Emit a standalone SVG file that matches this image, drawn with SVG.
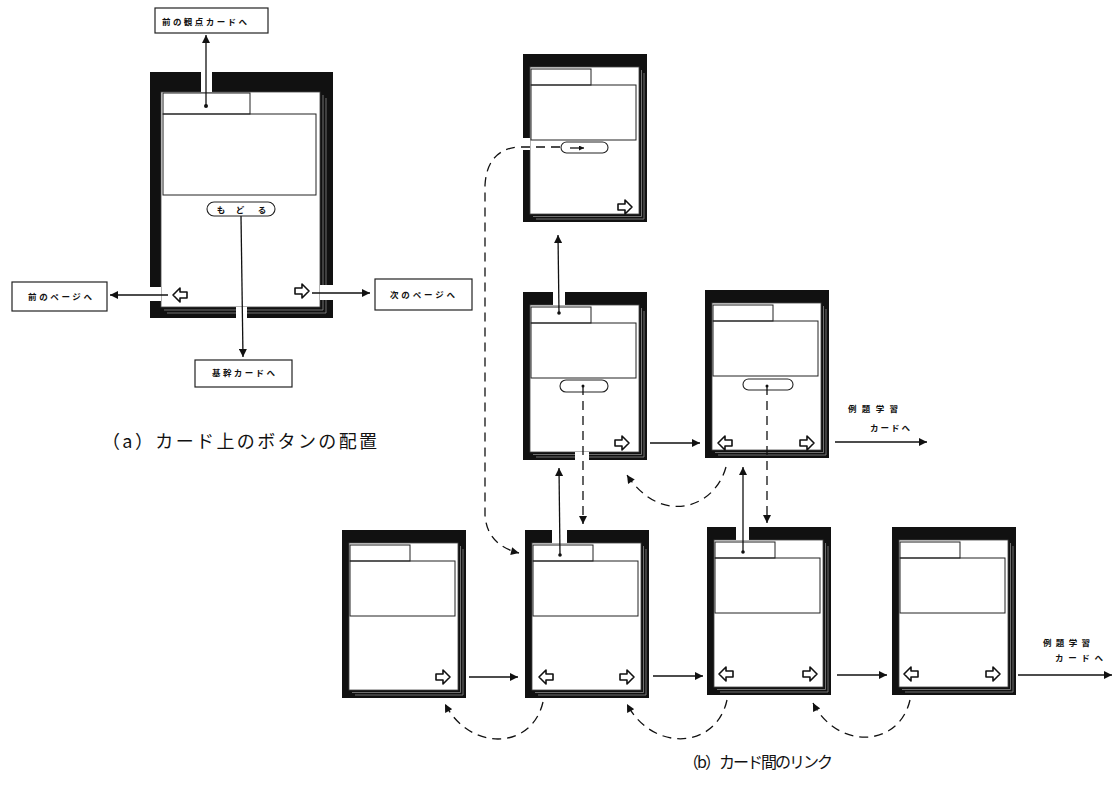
<svg xmlns="http://www.w3.org/2000/svg" xmlns:xlink="http://www.w3.org/1999/xlink" width="1119" height="799" viewBox="0 0 1119 799">
<style>
.frame{fill:#111}
.inner{fill:#fff;stroke:#444;stroke-width:0.8}
.thin{fill:none;stroke:#9a9a9a;stroke-width:0.7}
.ln{fill:none;stroke:#222;stroke-width:1}
.gap{fill:#fff}
.btn{fill:#fff;stroke:#222;stroke-width:1.1}
.conn{fill:none;stroke:#111;stroke-width:1.3}
.dash{stroke-dasharray:9 6}
.box{fill:#fff;stroke:#222;stroke-width:1.2}
.lbl{font-family:"Noto Sans CJK JP","Noto Sans",sans-serif;font-size:8.5px;font-weight:bold;fill:#111}
.cap{font-family:"Noto Sans CJK JP","Noto Sans",sans-serif;fill:#111}
.icon{fill:#fff;stroke:#111;stroke-width:1.6;stroke-linejoin:round}
.dot{fill:#111}
</style>
<defs>
<marker id="ah" viewBox="0 0 10 10" refX="10" refY="5" markerWidth="10" markerHeight="8" markerUnits="userSpaceOnUse" orient="auto"><path d="M0,0 L10,5 L0,10 Z" fill="#111"/></marker>
<marker id="ahs" viewBox="0 0 10 10" refX="10" refY="5" markerWidth="6" markerHeight="5" markerUnits="userSpaceOnUse" orient="auto"><path d="M0,0 L10,5 L0,10 Z" fill="#111"/></marker>
<path id="ra" d="M-7,-3 L0,-3 L0,-7 L7,0 L0,7 L0,3 L-7,3 Z"/>
<path id="la" d="M7,-3 L0,-3 L0,-7 L-7,0 L0,7 L0,3 L7,3 Z"/>
<g id="cardbase">
<rect class="frame" x="0" y="0" width="124" height="168"/>
<rect class="inner" x="7" y="13" width="109" height="147"/>
<polyline class="thin" points="118.5,16 118.5,162.5 10,162.5"/>
<polyline class="thin" points="121,19 121,165 13,165"/>
<rect class="ln" x="8" y="15" width="60" height="16"/>
<rect class="ln" x="8" y="31" width="105" height="55"/>
</g>
</defs>
<rect width="1119" height="799" fill="#fff"/>

<!-- (a) card -->
<g id="cardA">
<rect class="frame" x="150" y="72" width="183" height="246"/>
<rect class="inner" x="161" y="92" width="159" height="215"/>
<polyline class="thin" points="323,95 323,310 164,310"/>
<polyline class="thin" points="326,98 326,313 167,313"/>
<rect class="gap" x="201" y="72" width="11" height="20"/>
<rect class="gap" x="150" y="287" width="11" height="14"/>
<rect class="gap" x="320" y="285" width="13" height="15"/>
<rect class="gap" x="236" y="307" width="11" height="11"/>
<rect class="ln" x="163" y="93" width="87" height="21"/>
<rect class="ln" x="163" y="114" width="153" height="81"/>
<rect class="btn" x="207" y="202" width="68" height="14" rx="7"/>
<text class="lbl" x="221" y="212.5" text-anchor="middle">も</text>
<text class="lbl" x="240" y="212.5" text-anchor="middle">ど</text>
<text class="lbl" x="262" y="212.5" text-anchor="middle">る</text>
<use xlink:href="#la" class="icon" x="180" y="295"/>
<use xlink:href="#ra" class="icon" x="302" y="291"/>
</g>

<g id="lblPrevView"><rect class="box" x="155" y="8" width="113" height="25"/><text class="lbl" x="162" y="25" textLength="85" lengthAdjust="spacing">前の観点カードへ</text></g>
<g id="lblPrevPage"><rect class="box" x="12" y="282" width="95" height="29"/><text class="lbl" x="28" y="300" textLength="64" lengthAdjust="spacing">前のページへ</text></g>
<g id="lblNextPage"><rect class="box" x="375" y="279" width="97" height="31"/><text class="lbl" x="390" y="298" textLength="65" lengthAdjust="spacing">次のページへ</text></g>
<g id="lblBase"><rect class="box" x="195" y="360" width="97" height="27"/><text class="lbl" x="212" y="376" textLength="63" lengthAdjust="spacing">基幹カードへ</text></g>

<text class="cap" x="102" y="448" font-size="18" textLength="275" lengthAdjust="spacing">（a）カード上のボタンの配置</text>

<!-- (b) cards -->
<g id="cardT" transform="translate(523,54)">
<use xlink:href="#cardbase"/>
<rect class="gap" x="0" y="84" width="7" height="12"/>
<rect class="btn" x="38" y="88" width="47" height="11" rx="5.5"/>
<use xlink:href="#ra" class="icon" x="102" y="153"/>
</g>
<g id="cardM1" transform="translate(523,292)">
<use xlink:href="#cardbase"/>
<rect class="gap" x="30" y="0" width="12" height="13"/>
<rect class="gap" x="52" y="160" width="14" height="8"/>
<rect class="btn" x="37" y="88" width="48" height="12" rx="6"/>
<use xlink:href="#ra" class="icon" x="99" y="151"/>
</g>
<g id="cardM2" transform="translate(705,290)">
<use xlink:href="#cardbase"/>
<rect class="btn" x="38" y="89" width="50" height="11" rx="5.5"/>
<use xlink:href="#la" class="icon" x="20" y="153"/>
<use xlink:href="#ra" class="icon" x="102" y="153"/>
</g>
<g id="cardB1" transform="translate(342,530)">
<use xlink:href="#cardbase"/>
<use xlink:href="#ra" class="icon" x="101" y="147"/>
</g>
<g id="cardB2" transform="translate(525,530)">
<use xlink:href="#cardbase"/>
<rect class="gap" x="27" y="0" width="15" height="13"/>
<use xlink:href="#la" class="icon" x="21" y="147"/>
<use xlink:href="#ra" class="icon" x="102" y="147"/>
</g>
<g id="cardB3" transform="translate(707,527)">
<use xlink:href="#cardbase"/>
<rect class="gap" x="29" y="0" width="13" height="13"/>
<use xlink:href="#la" class="icon" x="19" y="147"/>
<use xlink:href="#ra" class="icon" x="103" y="147"/>
</g>
<g id="cardB4" transform="translate(892,527)">
<use xlink:href="#cardbase"/>
<use xlink:href="#la" class="icon" x="19" y="147"/>
<use xlink:href="#ra" class="icon" x="101" y="147"/>
</g>

<g id="lblEx1"><text class="lbl" x="848" y="412" font-size="9" textLength="50" lengthAdjust="spacing">例題学習</text><text class="lbl" x="870" y="431" font-size="9" textLength="40" lengthAdjust="spacing">カードへ</text></g>
<g id="lblEx2"><text class="lbl" x="1043" y="646" font-size="9" textLength="47" lengthAdjust="spacing">例題学習</text><text class="lbl" x="1055" y="661" font-size="9" textLength="48" lengthAdjust="spacing">カードへ</text></g>

<text class="cap" x="683" y="768" font-size="16" textLength="150" lengthAdjust="spacing">（b）カード間のリンク</text>

<g id="connectors">
<!-- (a) -->
<circle class="dot" cx="206" cy="106" r="2"/>
<line class="conn" x1="206" y1="106" x2="206" y2="35" marker-end="url(#ah)"/>
<line class="conn" x1="168" y1="295" x2="110" y2="295" marker-end="url(#ah)"/>
<line class="conn" x1="312" y1="293" x2="370" y2="293" marker-end="url(#ah)"/>
<line class="conn" x1="241" y1="216" x2="243" y2="357" marker-end="url(#ah)"/>
<!-- (b) -->
<path class="conn dash" d="M560,147 L518,147 Q487,150 485,185 L485,515 Q487,545 519,553" marker-end="url(#ah)"/>
<line class="conn" x1="570" y1="148" x2="584" y2="148" stroke-width="1.1" marker-end="url(#ahs)"/>
<circle class="dot" cx="559" cy="313" r="1.8"/>
<line class="conn" x1="559" y1="313" x2="558" y2="235" marker-end="url(#ah)"/>
<circle class="dot" cx="560" cy="555" r="1.8"/>
<line class="conn" x1="560" y1="555" x2="559" y2="468" marker-end="url(#ah)"/>
<circle class="dot" cx="583" cy="386" r="1.5"/>
<line class="conn dash" x1="583" y1="386" x2="583" y2="524" marker-end="url(#ah)"/>
<circle class="dot" cx="743" cy="552" r="1.8"/>
<line class="conn" x1="743" y1="552" x2="743" y2="467" marker-end="url(#ah)"/>
<circle class="dot" cx="767" cy="386" r="1.5"/>
<line class="conn dash" x1="767" y1="386" x2="767" y2="523" marker-end="url(#ah)"/>
<line class="conn" x1="650" y1="443" x2="700" y2="443" marker-end="url(#ah)"/>
<line class="conn" x1="835" y1="442" x2="927" y2="442" marker-end="url(#ah)"/>
<path class="conn dash" d="M726,467 C714,510 660,525 627,475" marker-end="url(#ah)"/>
<line class="conn" x1="469" y1="677" x2="518" y2="677" marker-end="url(#ah)"/>
<line class="conn" x1="653" y1="676" x2="703" y2="676" marker-end="url(#ah)"/>
<line class="conn" x1="837" y1="675" x2="887" y2="675" marker-end="url(#ah)"/>
<line class="conn" x1="1018" y1="675" x2="1112" y2="675" marker-end="url(#ah)"/>
<path class="conn dash" d="M543,702 C532,750 470,752 445,704" marker-end="url(#ah)"/>
<path class="conn dash" d="M727,700 C716,750 652,752 627,704" marker-end="url(#ah)"/>
<path class="conn dash" d="M910,700 C899,748 837,750 813,703" marker-end="url(#ah)"/>
</g>
</svg>
